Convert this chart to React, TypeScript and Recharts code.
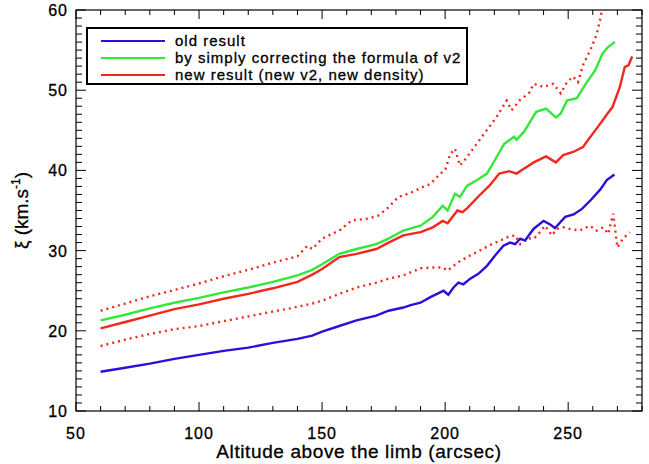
import { LineChart, Line, XAxis, YAxis, Legend } from 'recharts';

// altitude (arcsec) / xi (km/s)
const oldAlt = [60, 70, 80, 90, 100, 110, 120, 130, 140, 146, 150, 157, 164, 172, 177, 183, 186, 190, 194, 198, 199.3, 201.3, 203.4, 205.4, 207.4, 210.2, 213.5, 217, 220.3, 223.7, 226.4, 228.5, 230.5, 232.5, 235.9, 240, 242.7, 244.7, 246.7, 248.8, 252.2, 255.6, 259, 263, 265.7, 268.8];
const oldXi = [14.9, 15.4, 15.9, 16.5, 17.0, 17.5, 17.9, 18.5, 19.0, 19.4, 19.9, 20.6, 21.3, 21.9, 22.5, 22.9, 23.2, 23.5, 24.2, 24.8, 25.0, 24.5, 25.4, 26.0, 25.8, 26.5, 27.1, 28.1, 29.4, 30.6, 31.0, 30.8, 31.5, 31.25, 32.7, 33.7, 33.25, 32.8, 33.5, 34.2, 34.5, 35.2, 36.25, 37.6, 38.8, 39.5];

const fixAlt = [60, 70, 80, 90, 100, 110, 120, 130, 140, 146, 150, 157, 164, 172, 177, 183, 190, 195, 199, 201, 204, 206, 209, 213, 217, 221, 224, 228, 229, 232, 237, 241, 245, 247, 249.5, 253.5, 257.6, 261, 264, 266.3, 269];
const fixXi = [21.3, 22.0, 22.8, 23.5, 24.1, 24.8, 25.4, 26.1, 26.9, 27.6, 28.3, 29.6, 30.2, 30.8, 31.5, 32.5, 33.1, 34.2, 35.6, 35.0, 37.1, 36.7, 38.1, 38.8, 39.6, 41.7, 43.3, 44.2, 43.8, 44.8, 47.3, 47.7, 46.6, 47.1, 48.7, 49.0, 51.0, 52.5, 54.6, 55.4, 56.0];

const newAlt = [60, 70, 80, 90, 100, 110, 120, 130, 140, 146, 150, 157, 164, 172, 177, 183, 190, 195, 199, 201, 205, 207, 209, 214, 218, 222, 226, 229, 232, 236, 241, 245, 248, 252, 256, 258, 262, 266, 268, 271, 273, 274.5, 276];
const newXi = [20.3, 21.1, 21.9, 22.7, 23.3, 24.0, 24.6, 25.3, 26.1, 27.0, 27.7, 29.2, 29.6, 30.2, 31.0, 31.9, 32.3, 32.9, 33.7, 33.4, 35.0, 34.8, 35.3, 36.9, 38.1, 39.6, 39.9, 39.6, 40.2, 41.0, 41.75, 41.0, 41.9, 42.3, 42.9, 43.75, 45.4, 47.1, 47.9, 50.4, 52.9, 53.1, 54.2];

// upper / lower dotted envelopes (upper one leaves the frame at the top)
const upAlt = [60, 70, 80, 90, 100, 110, 120, 130, 140, 144, 146, 150, 157, 162, 169, 173, 177, 181, 186, 190, 194, 198, 200, 202, 204, 206, 209, 214, 221, 225, 227, 230.5, 234, 236, 240, 244, 247, 249.5, 252, 254, 256, 259.6, 261.7, 263, 263.7];
const upXi = [22.5, 23.4, 24.3, 25.1, 25.9, 26.8, 27.6, 28.5, 29.3, 30.6, 30.2, 31.5, 32.5, 33.75, 34.0, 34.4, 35.4, 36.7, 37.2, 37.8, 38.3, 39.6, 40.0, 42.0, 42.7, 40.6, 41.7, 43.8, 46.7, 48.7, 47.5, 48.8, 49.6, 50.8, 50.4, 50.8, 49.6, 51.0, 51.7, 51.0, 53.1, 55.4, 57.1, 58.8, 60];

const lowAlt = [60, 70, 80, 90, 100, 110, 120, 130, 137, 146, 150, 157, 164, 172, 177, 183, 190, 195, 199, 201, 205, 209, 214, 219, 222, 226, 228.5, 230.5, 233, 236, 238, 240.6, 243.4, 245.4, 248, 250.7, 254.7, 258.9, 261.6, 264.2, 266.3, 268.3, 270, 272.3, 275];
const lowXi = [18.1, 18.9, 19.6, 20.2, 20.6, 21.2, 21.8, 22.4, 22.8, 23.4, 23.75, 24.6, 25.4, 26.0, 26.5, 26.9, 27.8, 27.9, 27.9, 27.5, 28.5, 29.2, 30.0, 30.8, 31.2, 31.75, 31.9, 30.8, 31.5, 31.5, 32.1, 33.1, 31.9, 32.7, 32.9, 32.7, 32.5, 33.1, 32.5, 32.9, 32.1, 34.6, 30.4, 31.5, 32.3];

const legendNames = [
  'old result',
  'by simply correcting the formula of v2',
  'new result (new v2, new density)',
];

const X_DOMAIN = [50, 280];
const Y_DOMAIN = [10, 60];
const xMajor = [50, 100, 150, 200, 250];
const yMajor = [10, 20, 30, 40, 50, 60];
const xMinor = Array.from({ length: 24 }, (_, i) => 50 + i * 10);
const yMinor = Array.from({ length: 51 }, (_, i) => 10 + i);

const BLUE = '#2c0fd8';
const GREEN = '#33e83a';
const RED = '#f0281e';
const FRAME = '#000';
const FONT = '"Liberation Sans", Arial, sans-serif';

// plot box, matches the chart margins + axis sizes below
const W = 649;
const H = 464;
const PL = 76;
const PT = 10;
const PR = W - 7;
const PB = H - 53;

const toPoints = (xs: number[], ys: number[]) => xs.map((x, i) => ({ x, y: ys[i] }));

const XTickLabel = (props: any) => (
  <text x={props.x} y={Number(props.y) + 28} textAnchor="middle" fontSize={16} letterSpacing={1} fontFamily={FONT} fill="#000" stroke="#000" strokeWidth={0.3}>
    {props.payload.value}
  </text>
);

const YTickLabel = (props: any) => (
  <text x={Number(props.x) - 8} y={Number(props.y) + 6} textAnchor="end" fontSize={16} letterSpacing={1} fontFamily={FONT} fill="#000" stroke="#000" strokeWidth={0.3}>
    {props.payload.value}
  </text>
);

const XTitle = (props: any) => {
  const vb = props.viewBox;
  return (
    <text x={vb.x + vb.width / 2} y={vb.y + 47} textAnchor="middle" fontSize={19} letterSpacing={0.6} fontFamily={FONT} fill="#000" stroke="#000" strokeWidth={0.3}>
      Altitude above the limb (arcsec)
    </text>
  );
};

const YTitle = (props: any) => {
  const vb = props.viewBox;
  const cy = vb.y + vb.height / 2;
  return (
    <text transform={`translate(28, ${cy}) rotate(-90)`} textAnchor="middle" fontSize={19} fontFamily={FONT} fill="#000" stroke="#000" strokeWidth={0.3}>
      ξ (km.s<tspan fontSize={12} dy={-8}>-1</tspan><tspan dy={8}>)</tspan>
    </text>
  );
};

// IDL-style box with inward ticks on all four sides
const Frame = () => {
  const sx = (v: number) => PL + ((v - X_DOMAIN[0]) / (X_DOMAIN[1] - X_DOMAIN[0])) * (PR - PL);
  const sy = (v: number) => PB - ((v - Y_DOMAIN[0]) / (Y_DOMAIN[1] - Y_DOMAIN[0])) * (PB - PT);
  return (
    <svg width={W} height={H} style={{ position: 'absolute', left: 0, top: 0, pointerEvents: 'none' }}>
      <rect x={PL} y={PT} width={PR - PL} height={PB - PT} fill="none" stroke={FRAME} strokeWidth={1.2} />
      {xMinor.map((v) => {
        const len = xMajor.includes(v) ? 9 : 5;
        const px = sx(v);
        return (
          <g key={`x${v}`}>
            <line x1={px} y1={PB} x2={px} y2={PB - len} stroke={FRAME} strokeWidth={1} />
            <line x1={px} y1={PT} x2={px} y2={PT + len} stroke={FRAME} strokeWidth={1} />
          </g>
        );
      })}
      {yMinor.map((v) => {
        const len = yMajor.includes(v) ? 10 : 6;
        const py = sy(v);
        return (
          <g key={`y${v}`}>
            <line x1={PL} y1={py} x2={PL + len} y2={py} stroke={FRAME} strokeWidth={1} />
            <line x1={PR} y1={py} x2={PR - len} y2={py} stroke={FRAME} strokeWidth={1} />
          </g>
        );
      })}
    </svg>
  );
};

const LegendBox = () => {
  const colors = [BLUE, GREEN, RED];
  return (
    <div
      style={{
        boxSizing: 'border-box',
        width: 382,
        height: 58,
        border: '2px solid #000',
        background: '#fff',
        paddingTop: 3,
      }}
    >
      {legendNames.map((name, i) => (
        <div key={name} style={{ display: 'flex', alignItems: 'center', height: 17 }}>
          <div style={{ width: 64, height: 2, background: colors[i], marginLeft: 13, marginRight: 10 }} />
          <span style={{ fontFamily: FONT, fontSize: 15, letterSpacing: 1, color: '#000', lineHeight: '17px', WebkitTextStroke: '0.3px #000' }}>{name}</span>
        </div>
      ))}
    </div>
  );
};

export default function App() {
  return (
    <div style={{ position: 'absolute', left: 0, top: 0, width: W, height: H, background: '#fff' }}>
      <LineChart width={W} height={H} margin={{ top: PT, right: W - PR, bottom: 0, left: 0 }}>
        <XAxis
          xAxisId="b"
          type="number"
          dataKey="x"
          domain={X_DOMAIN}
          ticks={xMajor}
          interval={0}
          height={H - PB}
          tickSize={0}
          tickMargin={0}
          tickLine={false}
          axisLine={false}
          tick={(p: any) => <XTickLabel {...p} />}
          label={<XTitle />}
        />
        <YAxis
          yAxisId="l"
          type="number"
          domain={Y_DOMAIN}
          ticks={yMajor}
          interval={0}
          width={PL}
          tickSize={0}
          tickMargin={0}
          tickLine={false}
          axisLine={false}
          tick={(p: any) => <YTickLabel {...p} />}
          label={<YTitle />}
        />
        <Line xAxisId="b" yAxisId="l" data={toPoints(upAlt, upXi)} dataKey="y" type="linear" stroke={RED} strokeWidth={2.4} strokeDasharray="2 4" dot={false} isAnimationActive={false} legendType="none" />
        <Line xAxisId="b" yAxisId="l" data={toPoints(lowAlt, lowXi)} dataKey="y" type="linear" stroke={RED} strokeWidth={2.4} strokeDasharray="2 4" dot={false} isAnimationActive={false} legendType="none" />
        <Line xAxisId="b" yAxisId="l" data={toPoints(oldAlt, oldXi)} dataKey="y" name={legendNames[0]} type="linear" stroke={BLUE} strokeWidth={2.4} dot={false} isAnimationActive={false} />
        <Line xAxisId="b" yAxisId="l" data={toPoints(fixAlt, fixXi)} dataKey="y" name={legendNames[1]} type="linear" stroke={GREEN} strokeWidth={2.4} dot={false} isAnimationActive={false} />
        <Line xAxisId="b" yAxisId="l" data={toPoints(newAlt, newXi)} dataKey="y" name={legendNames[2]} type="linear" stroke={RED} strokeWidth={2.4} dot={false} isAnimationActive={false} />
        <Legend
          layout="vertical"
          align="center"
          verticalAlign="middle"
          wrapperStyle={{ left: 86, top: 27, width: 382, height: 58 }}
          content={() => <LegendBox />}
        />
      </LineChart>
      <Frame />
    </div>
  );
}
